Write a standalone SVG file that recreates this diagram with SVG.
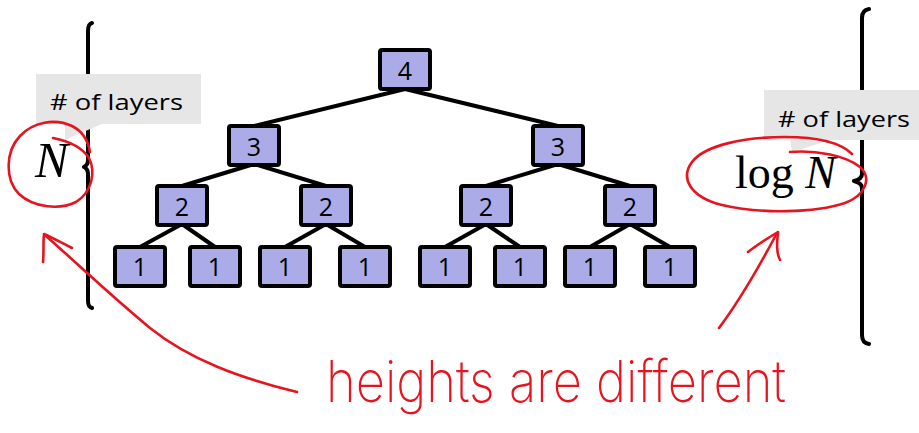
<svg xmlns="http://www.w3.org/2000/svg" width="919" height="433" viewBox="0 0 919 433">
<style>
.node rect{fill:#ababe8;stroke:#000;stroke-width:4;}
.node text{font-family:"Open Sans","Liberation Sans",Arial,sans-serif;font-size:25px;text-anchor:middle;fill:#000;}
.edge{stroke:#000;stroke-width:4;fill:none;}
.brace{stroke:#000;stroke-width:4;fill:none;stroke-linecap:round;stroke-linejoin:round;}
.callout{fill:#e6e6e6;}
.ctext{font-family:"Open Sans","Liberation Sans",sans-serif;font-size:22px;fill:#000;}
.math{font-family:"Liberation Serif","Times New Roman",serif;fill:#000;}
.ink{stroke:#e5141e;stroke-width:2.6;fill:none;stroke-linecap:round;stroke-linejoin:round;}
</style>
<rect width="919" height="433" fill="#fff"/>
<g id="connectors">
<line class="edge" x1="405" y1="89" x2="254" y2="126"/>
<line class="edge" x1="405" y1="89" x2="558" y2="126"/>
<line class="edge" x1="254" y1="164" x2="182" y2="186"/>
<line class="edge" x1="254" y1="164" x2="326" y2="186"/>
<line class="edge" x1="558" y1="164" x2="486" y2="186"/>
<line class="edge" x1="558" y1="164" x2="630" y2="186"/>
<line class="edge" x1="182" y1="224" x2="140" y2="247"/>
<line class="edge" x1="182" y1="224" x2="215" y2="247"/>
<line class="edge" x1="326" y1="224" x2="285" y2="247"/>
<line class="edge" x1="326" y1="224" x2="365" y2="247"/>
<line class="edge" x1="486" y1="224" x2="445" y2="247"/>
<line class="edge" x1="486" y1="224" x2="520" y2="247"/>
<line class="edge" x1="630" y1="224" x2="590" y2="247"/>
<line class="edge" x1="630" y1="224" x2="670" y2="247"/>
</g>
<g id="n4" class="node"><rect x="380" y="50" width="50" height="39" rx="2"/><text x="405" y="80">4</text></g>
<g id="n3a" class="node"><rect x="229" y="126" width="50" height="39" rx="2"/><text x="254" y="156">3</text></g>
<g id="n3b" class="node"><rect x="533" y="126" width="50" height="39" rx="2"/><text x="558" y="156">3</text></g>
<g id="n2a" class="node"><rect x="157" y="186" width="50" height="39" rx="2"/><text x="182" y="216">2</text></g>
<g id="n2b" class="node"><rect x="301" y="186" width="50" height="39" rx="2"/><text x="326" y="216">2</text></g>
<g id="n2c" class="node"><rect x="461" y="186" width="50" height="39" rx="2"/><text x="486" y="216">2</text></g>
<g id="n2d" class="node"><rect x="605" y="186" width="50" height="39" rx="2"/><text x="630" y="216">2</text></g>
<g id="n1a" class="node"><rect x="115" y="247" width="50" height="39" rx="2"/><text x="140" y="276">1</text></g>
<g id="n1b" class="node"><rect x="190" y="247" width="50" height="39" rx="2"/><text x="215" y="276">1</text></g>
<g id="n1c" class="node"><rect x="260" y="247" width="50" height="39" rx="2"/><text x="285" y="276">1</text></g>
<g id="n1d" class="node"><rect x="340" y="247" width="50" height="39" rx="2"/><text x="365" y="276">1</text></g>
<g id="n1e" class="node"><rect x="420" y="247" width="50" height="39" rx="2"/><text x="445" y="276">1</text></g>
<g id="n1f" class="node"><rect x="495" y="247" width="50" height="39" rx="2"/><text x="520" y="276">1</text></g>
<g id="n1g" class="node"><rect x="565" y="247" width="50" height="39" rx="2"/><text x="590" y="276">1</text></g>
<g id="n1h" class="node"><rect x="645" y="247" width="50" height="39" rx="2"/><text x="670" y="276">1</text></g>

<g id="left-brace">
<path class="brace" d="M92,23 Q88,24 88,31 L88,160 Q88,165 84,167 Q88,169 88,174 L88,301 Q88,307 92,308"/>
</g>
<g id="right-brace">
<path class="brace" d="M869,9 Q862,10 862,18 L862,174 Q862,179 854,181 Q862,183 862,188 L862,335 Q862,343 869,344"/>
</g>

<g id="left-callout">
<rect class="callout" x="36" y="74" width="165" height="50"/>
<polygon class="callout" points="65,123 104,123 65,140"/>
<text class="ctext" x="50" y="110" textLength="133" lengthAdjust="spacingAndGlyphs"># of layers</text>
</g>
<g id="right-callout">
<rect class="callout" x="764" y="90" width="155" height="50"/>
<polygon class="callout" points="790,139 834,139 792,152"/>
<text class="ctext" x="778" y="127" textLength="132" lengthAdjust="spacingAndGlyphs"># of layers</text>
</g>

<text class="math" x="35" y="177" font-size="50" font-style="italic">N</text>
<text class="math" x="735" y="188" font-size="46">log <tspan font-style="italic">N</tspan></text>

<g id="annotations">
<path class="ink" d="M53,138 C68,141 82,147 89,158 C96,172 92,192 76,202 C60,210 34,208 19,194 C5,180 5,152 20,136 C33,122 55,118 72,126 C82,131 88,140 90,152"/>
<path class="ink" d="M790,152 C815,150 845,155 860,167 C872,178 866,195 845,203 C815,213 760,214 722,205 C690,197 680,178 692,162 C705,145 745,137 785,137 C815,137 840,142 852,154"/>
<path class="ink" d="M297,392 C240,378 190,360 150,328 C110,295 80,266 46,236"/>
<path class="ink" d="M43,262 C44,252 43,242 44,234 C53,238 62,243 72,248"/>
<path class="ink" d="M719,328 C740,300 760,265 777,233"/>
<path class="ink" d="M748,252 C758,244 768,238 778,232 C777,242 776,252 780,260"/>
<text x="326" y="402" font-family="Inter,'DejaVu Sans',sans-serif" font-weight="200" font-size="58" fill="#e5141e" textLength="460" lengthAdjust="spacingAndGlyphs">heights are different</text>
</g>
</svg>
